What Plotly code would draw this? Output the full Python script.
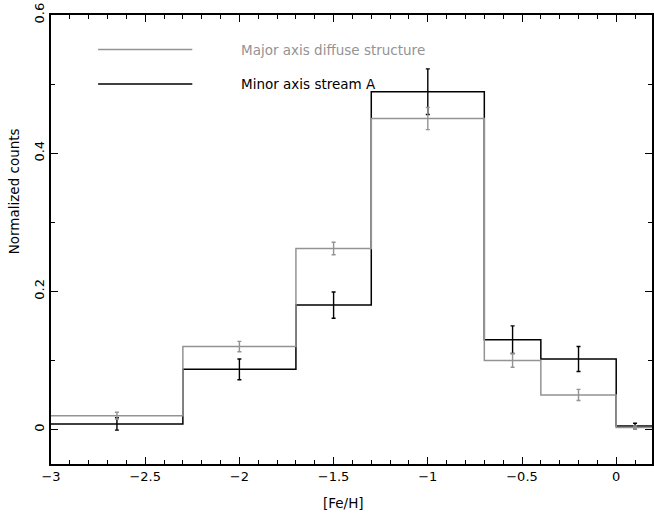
import plotly.graph_objects as go

# Bin edges in [Fe/H]
bin_edges = [-3.0, -2.3, -1.7, -1.3, -0.7, -0.4, 0.0, 0.2]
bin_centers = [-2.65, -2.0, -1.5, -1.0, -0.55, -0.2, 0.1]

# Major axis diffuse structure (grey)
major_vals = [0.020, 0.120, 0.262, 0.450, 0.100, 0.050, 0.003]
major_errs = [0.005, 0.0075, 0.009, 0.016, 0.010, 0.008, 0.002]

# Minor axis stream A (black)
minor_vals = [0.008, 0.087, 0.180, 0.489, 0.130, 0.102, 0.005]
minor_errs = [0.009, 0.015, 0.019, 0.033, 0.020, 0.018, 0.004]

series_names = ["Major axis diffuse structure", "Minor axis stream A"]
GREY = "#939393"
BLACK = "#000000"
FONT = "DejaVu Sans"

fig = go.Figure()


def add_hist(vals, errs, color):
    fig.add_trace(go.Scatter(
        x=bin_edges, y=vals + [vals[-1]], mode="lines", line_shape="hv",
        line=dict(color=color, width=1.5), showlegend=False, hoverinfo="skip"))
    fig.add_trace(go.Scatter(
        x=bin_centers, y=vals, mode="markers", marker=dict(size=0.1, color=color),
        error_y=dict(type="data", array=errs, visible=True, color=color,
                     thickness=1.4, width=2),
        showlegend=False, hoverinfo="skip"))


add_hist(minor_vals, minor_errs, BLACK)
add_hist(major_vals, major_errs, GREY)

# Legend drawn PGPLOT-style (line sample + text) in data coordinates
legend_y = [0.55, 0.50]
legend_colors = [GREY, BLACK]
for name, ly, col in zip(series_names, legend_y, legend_colors):
    fig.add_shape(type="line", x0=-2.75, x1=-2.25, y0=ly, y1=ly,
                  xref="x", yref="y", line=dict(color=col, width=1.5))
    fig.add_annotation(x=-2.0, y=ly, xref="x", yref="y", text=name,
                       showarrow=False, xanchor="left", yanchor="middle",
                       font=dict(family=FONT, size=13.5, color=col))

# Axis titles
fig.add_annotation(text="[Fe/H]", xref="paper", yref="paper", x=0.487, y=-0.086,
                   showarrow=False, xanchor="center", yanchor="middle",
                   font=dict(family=FONT, size=13.5, color="black"))
fig.add_annotation(text="Normalized counts", xref="paper", yref="paper",
                   x=-0.061, y=0.608, textangle=-90,
                   showarrow=False, xanchor="center", yanchor="middle",
                   font=dict(family=FONT, size=13.5, color="black"))

axis_common = dict(showgrid=False, zeroline=False, showline=True, linecolor="black",
                   linewidth=1.7, mirror="allticks", ticks="inside", ticklen=7,
                   tickwidth=1.2, tickcolor="black",
                   tickfont=dict(family=FONT, size=13, color="black"))

fig.update_xaxes(range=[-3.0, 0.19], tick0=-3.0, dtick=0.5,
                 minor=dict(dtick=0.1, ticks="inside", ticklen=4, tickcolor="black"),
                 **axis_common)
fig.update_yaxes(range=[-0.05, 0.6], tick0=0, dtick=0.2, tickangle=-90,
                 tickformat="~g",
                 minor=dict(dtick=0.1, ticks="inside", ticklen=4, tickcolor="black"),
                 **axis_common)

fig.update_layout(width=654, height=517, margin=dict(l=51, r=0, t=15, b=53),
                  paper_bgcolor="white", plot_bgcolor="white",
                  font=dict(family=FONT, color="black"), showlegend=False)

fig.write_html("out.html")
